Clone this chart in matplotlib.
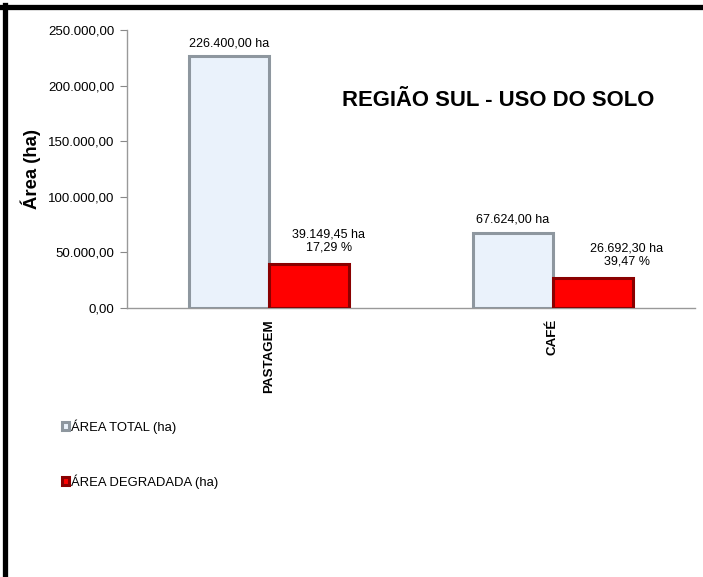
import matplotlib
matplotlib.use("Agg")
import matplotlib.pyplot as plt
from matplotlib.lines import Line2D
import numpy as np

plt.rcParams['font.family'] = ['Liberation Sans', 'DejaVu Sans']

categories = ["PASTAGEM", "CAFÉ"]
area_total = [226400.00, 67624.00]
area_degradada = [39149.45, 26692.30]
pct_degradada = [17.29, 39.47]
series_names = ["ÁREA TOTAL (ha)", "ÁREA DEGRADADA (ha)"]
yticks = [0, 50000, 100000, 150000, 200000, 250000]
ytick_labels = ["0,00", "50.000,00", "100.000,00", "150.000,00", "200.000,00", "250.000,00"]


def br(v, dec=2):
    s = f"{v:,.{dec}f}"
    return s.replace(",", "X").replace(".", ",").replace("X", ".")


W, H = 703, 577
fig = plt.figure(figsize=(W / 100, H / 100), dpi=100)
fig.patch.set_facecolor("white")
ax = fig.add_axes([127 / W, 1 - 308 / H, (695 - 127) / W, (308 - 30) / H])

x = np.arange(len(categories))
bw = 0.283
b1 = ax.bar(x - bw / 2, area_total, bw, color="#EAF2FB", edgecolor="#8E979F",
            linewidth=2.2, label=series_names[0], zorder=3)
b2 = ax.bar(x + bw / 2, area_degradada, bw, color="#FF0000", edgecolor="#8A0000",
            linewidth=2.2, label=series_names[1], zorder=3)

for xi, v in zip(x, area_total):
    ax.annotate(f"{br(v)} ha", (xi - bw / 2, v), xytext=(0, 5), textcoords="offset points",
                ha="center", va="bottom", fontsize=9)
for i, (xi, v, p) in enumerate(zip(x, area_degradada, pct_degradada)):
    ax.annotate(f"{br(v)} ha\n{br(p)} %", (xi + bw / 2, v), xytext=(14 + 10 * i, 8),
                textcoords="offset points", ha="center", va="bottom", fontsize=9,
                linespacing=1.05)

ax.set_xlim(-0.5, len(categories) - 0.5)
ax.set_ylim(0, 250000)
ax.set_yticks(yticks)
ax.set_yticklabels(ytick_labels, fontsize=9.5)
ax.set_xticks(x)
ax.set_xticklabels(categories, rotation=90, fontsize=9.6, fontweight="bold")
ax.tick_params(axis="x", length=0, pad=8)
ax.tick_params(axis="y", length=5, color="#888888", pad=4)
for s in ["top", "right"]:
    ax.spines[s].set_visible(False)
for s in ["left", "bottom"]:
    ax.spines[s].set_color("#999999")
    ax.spines[s].set_linewidth(1)
ax.set_ylabel("Área (ha)", fontsize=13.3, fontweight="bold")
ax.yaxis.set_label_coords(-0.152, 0.5)

fig.text(498 / W, 1 - 101 / H, "REGIÃO SUL - USO DO SOLO", ha="center", va="center",
         fontsize=15.9, fontweight="bold")

fig.legend(handles=[b1, b2], labels=series_names, loc="upper left",
           bbox_to_anchor=(57 / W, 1 - 414 / H), frameon=False, fontsize=9.4,
           handlelength=0.5, handleheight=0.5, handletextpad=0.15, labelspacing=3.1,
           borderaxespad=0)

fig.add_artist(Line2D([2 / W, 1], [1 - 6.5 / H, 1 - 6.5 / H], color="black", lw=3.8,
                      transform=fig.transFigure))
fig.add_artist(Line2D([4.5 / W, 4.5 / W], [0, 1 - 5 / H], color="black", lw=3.8,
                      transform=fig.transFigure))

fig.savefig("out.png", dpi=100)
